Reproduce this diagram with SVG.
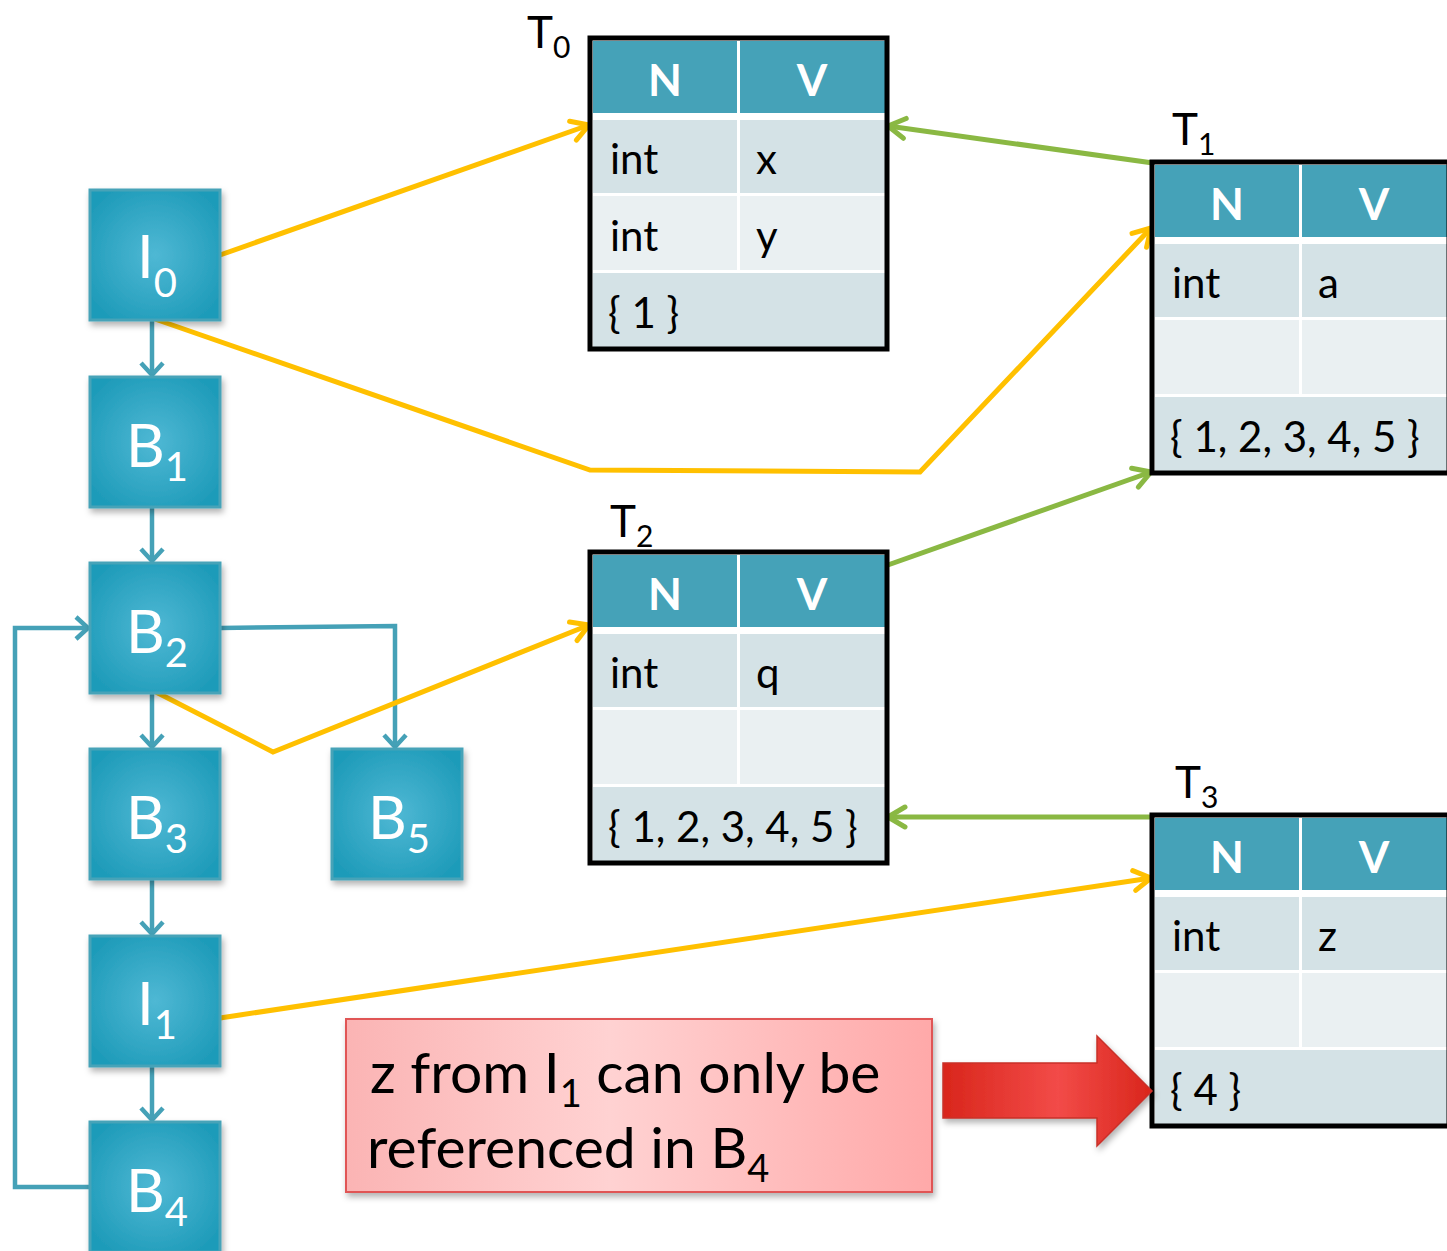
<svg xmlns="http://www.w3.org/2000/svg" width="1447" height="1251" viewBox="0 0 1447 1251">
<style>
.node rect{fill:url(#ng);stroke:#47a3b8;stroke-width:3}
.nl{font-family:Lato,"Open Sans",sans-serif;fill:#fff;font-size:60px;text-anchor:middle}
.sub{font-size:40px}
.tt{font-family:Lato,"Open Sans",sans-serif;fill:#000;font-size:42px}
.th{font-family:Lato,"Open Sans",sans-serif;fill:#fff;font-size:44px;font-weight:bold;text-anchor:middle}
.tl{font-family:Lato,"Open Sans",sans-serif;fill:#000;font-size:44px}
.tsub{font-size:30px}
.hd{fill:#45a2b8}
.rd{fill:#d4e2e6}
.rl{fill:#eaf0f2}
.teal{fill:none;stroke:#45a1b7;stroke-width:4.5;marker-end:url(#at)}
.yel{fill:none;stroke:#ffc000;stroke-width:5;marker-end:url(#ay);stroke-linejoin:miter}
.grn{fill:none;stroke:#8ab843;stroke-width:5;marker-end:url(#ag)}
.co{font-family:Lato,"Open Sans",sans-serif;fill:#000;font-size:57px}
</style>
<defs>
<radialGradient id="ng" cx="0.5" cy="0.5" r="0.6">
<stop offset="0" stop-color="#4fb8d4"/>
<stop offset="1" stop-color="#1e9bb9"/>
</radialGradient>
<linearGradient id="cg" x1="0" y1="0" x2="1" y2="0">
<stop offset="0" stop-color="#fbb4b4"/>
<stop offset="0.45" stop-color="#ffd2d2"/>
<stop offset="1" stop-color="#ffa9a9"/>
</linearGradient>
<linearGradient id="rg" x1="0" y1="0" x2="1" y2="0">
<stop offset="0" stop-color="#d9261c"/>
<stop offset="0.55" stop-color="#f24b48"/>
<stop offset="1" stop-color="#d9261c"/>
</linearGradient>
<filter id="sh" x="-20%" y="-20%" width="140%" height="140%">
<feDropShadow dx="2" dy="4" stdDeviation="3" flood-color="#000" flood-opacity="0.3"/>
</filter>
<marker id="at" markerUnits="userSpaceOnUse" markerWidth="30" markerHeight="30" viewBox="0 0 30 30" refX="16" refY="15" orient="auto">
<path d="M4,4 L16,15 L4,26" fill="none" stroke="#45a1b7" stroke-width="4.5"/>
</marker>
<marker id="ay" markerUnits="userSpaceOnUse" markerWidth="30" markerHeight="30" viewBox="0 0 30 30" refX="26" refY="15" orient="auto">
<path d="M9,5 L26,15 L9,25" fill="none" stroke="#ffc000" stroke-width="5" stroke-linecap="round" stroke-linejoin="round"/>
</marker>
<marker id="ag" markerUnits="userSpaceOnUse" markerWidth="30" markerHeight="30" viewBox="0 0 30 30" refX="26" refY="15" orient="auto">
<path d="M9,5 L26,15 L9,25" fill="none" stroke="#8ab843" stroke-width="5" stroke-linecap="round" stroke-linejoin="round"/>
</marker>
</defs>
<rect width="1447" height="1251" fill="#fff"/>

<g id="connectors">
<path class="teal" d="M152,320 L152,375"/>
<path class="teal" d="M152,507 L152,561"/>
<path class="teal" d="M152,693 L152,747"/>
<path class="teal" d="M152,879 L152,934"/>
<path class="teal" d="M152,1066 L152,1120"/>
<path class="teal" d="M220,628 L395,626 L395,747"/>
<path class="teal" d="M90,1187 L15,1187 L15,628 L88,628"/>
<path class="yel" d="M220,255 L589,125"/>
<path class="yel" d="M152,318 L590,470 L920,472 L1151,228"/>
<path class="yel" d="M152,690 L273,752 L589,625"/>
<path class="yel" d="M220,1018 L1151,878"/>
<path class="grn" d="M1153,163 L888,126"/>
<path class="grn" d="M885,566 L1151,472"/>
<path class="grn" d="M1152,817 L888,817"/>
</g>

<g id="I0" class="node"><rect x="90" y="190" width="130" height="130" filter="url(#sh)"/><text class="nl" x="157" y="278">I<tspan class="sub" dy="19">0</tspan></text></g>
<g id="B1" class="node"><rect x="90" y="377" width="130" height="130" filter="url(#sh)"/><text class="nl" x="157" y="467">B<tspan class="sub" dy="14">1</tspan></text></g>
<g id="B2" class="node"><rect x="90" y="563" width="130" height="130" filter="url(#sh)"/><text class="nl" x="157" y="653">B<tspan class="sub" dy="14">2</tspan></text></g>
<g id="B3" class="node"><rect x="90" y="749" width="130" height="130" filter="url(#sh)"/><text class="nl" x="157" y="839">B<tspan class="sub" dy="14">3</tspan></text></g>
<g id="B5" class="node"><rect x="332" y="749" width="130" height="130" filter="url(#sh)"/><text class="nl" x="399" y="839">B<tspan class="sub" dy="14">5</tspan></text></g>
<g id="I1" class="node"><rect x="90" y="936" width="130" height="130" filter="url(#sh)"/><text class="nl" x="157" y="1025">I<tspan class="sub" dy="14">1</tspan></text></g>
<g id="B4" class="node"><rect x="90" y="1122" width="130" height="130" filter="url(#sh)"/><text class="nl" x="157" y="1212">B<tspan class="sub" dy="14">4</tspan></text></g>

<g id="T0" transform="translate(590,38)">
<text class="tl" x="-63" y="10">T<tspan class="tsub" dy="10">0</tspan></text>
<rect x="0" y="0" width="297" height="311" fill="#fff"/>
<rect class="hd" x="3" y="3" width="144" height="72"/><rect class="hd" x="150" y="3" width="145" height="72"/>
<rect class="rd" x="3" y="82" width="144" height="73"/><rect class="rd" x="150" y="82" width="145" height="73"/>
<rect class="rl" x="3" y="158" width="144" height="74"/><rect class="rl" x="150" y="158" width="145" height="74"/>
<rect class="rd" x="3" y="235" width="292" height="74"/>
<rect x="0" y="0" width="297" height="311" fill="none" stroke="#000" stroke-width="5"/>
<text class="th" x="75" y="58">N</text><text class="th" x="222" y="58">V</text>
<text class="tt" x="20" y="136">int</text><text class="tt" x="166" y="136">x</text>
<text class="tt" x="20" y="213">int</text><text class="tt" x="166" y="213">y</text>
<text class="tt" x="18" y="290">{ 1 }</text>
</g>

<g id="T1" transform="translate(1152,162)">
<text class="tl" x="20" y="-17">T<tspan class="tsub" dy="10">1</tspan></text>
<rect x="0" y="0" width="297" height="311" fill="#fff"/>
<rect class="hd" x="3" y="3" width="144" height="72"/><rect class="hd" x="150" y="3" width="145" height="72"/>
<rect class="rd" x="3" y="82" width="144" height="73"/><rect class="rd" x="150" y="82" width="145" height="73"/>
<rect class="rl" x="3" y="158" width="144" height="74"/><rect class="rl" x="150" y="158" width="145" height="74"/>
<rect class="rd" x="3" y="235" width="292" height="74"/>
<rect x="0" y="0" width="297" height="311" fill="none" stroke="#000" stroke-width="5"/>
<text class="th" x="75" y="58">N</text><text class="th" x="222" y="58">V</text>
<text class="tt" x="20" y="136">int</text><text class="tt" x="166" y="136">a</text>
<text class="tt" x="18" y="290">{ 1, 2, 3, 4, 5 }</text>
</g>

<g id="T2" transform="translate(590,552)">
<text class="tl" x="20" y="-15">T<tspan class="tsub" dy="10">2</tspan></text>
<rect x="0" y="0" width="297" height="311" fill="#fff"/>
<rect class="hd" x="3" y="3" width="144" height="72"/><rect class="hd" x="150" y="3" width="145" height="72"/>
<rect class="rd" x="3" y="82" width="144" height="73"/><rect class="rd" x="150" y="82" width="145" height="73"/>
<rect class="rl" x="3" y="158" width="144" height="74"/><rect class="rl" x="150" y="158" width="145" height="74"/>
<rect class="rd" x="3" y="235" width="292" height="74"/>
<rect x="0" y="0" width="297" height="311" fill="none" stroke="#000" stroke-width="5"/>
<text class="th" x="75" y="58">N</text><text class="th" x="222" y="58">V</text>
<text class="tt" x="20" y="136">int</text><text class="tt" x="166" y="136">q</text>
<text class="tt" x="18" y="290">{ 1, 2, 3, 4, 5 }</text>
</g>

<g id="T3" transform="translate(1152,815)">
<text class="tl" x="23" y="-17">T<tspan class="tsub" dy="10">3</tspan></text>
<rect x="0" y="0" width="297" height="311" fill="#fff"/>
<rect class="hd" x="3" y="3" width="144" height="72"/><rect class="hd" x="150" y="3" width="145" height="72"/>
<rect class="rd" x="3" y="82" width="144" height="73"/><rect class="rd" x="150" y="82" width="145" height="73"/>
<rect class="rl" x="3" y="158" width="144" height="74"/><rect class="rl" x="150" y="158" width="145" height="74"/>
<rect class="rd" x="3" y="235" width="292" height="74"/>
<rect x="0" y="0" width="297" height="311" fill="none" stroke="#000" stroke-width="5"/>
<text class="th" x="75" y="58">N</text><text class="th" x="222" y="58">V</text>
<text class="tt" x="20" y="136">int</text><text class="tt" x="166" y="136">z</text>
<text class="tt" x="18" y="290">{ 4 }</text>
</g>

<g id="callout">
<rect x="346" y="1019" width="586" height="173" fill="url(#cg)" stroke="#e05555" stroke-width="2" filter="url(#sh)"/>
<text class="co" x="370" y="1093">z from I<tspan font-size="38" dy="14">1</tspan><tspan dy="-14"> can only be</tspan></text>
<text class="co" x="367" y="1168">referenced in B<tspan font-size="38" dy="14">4</tspan></text>
</g>

<g id="redArrow">
<path d="M943,1063 L1097,1063 L1097,1036 L1152,1091 L1097,1146 L1097,1118 L943,1118 Z" fill="url(#rg)" stroke="#c8302a" stroke-width="1.5" filter="url(#sh)"/>
</g>
</svg>
